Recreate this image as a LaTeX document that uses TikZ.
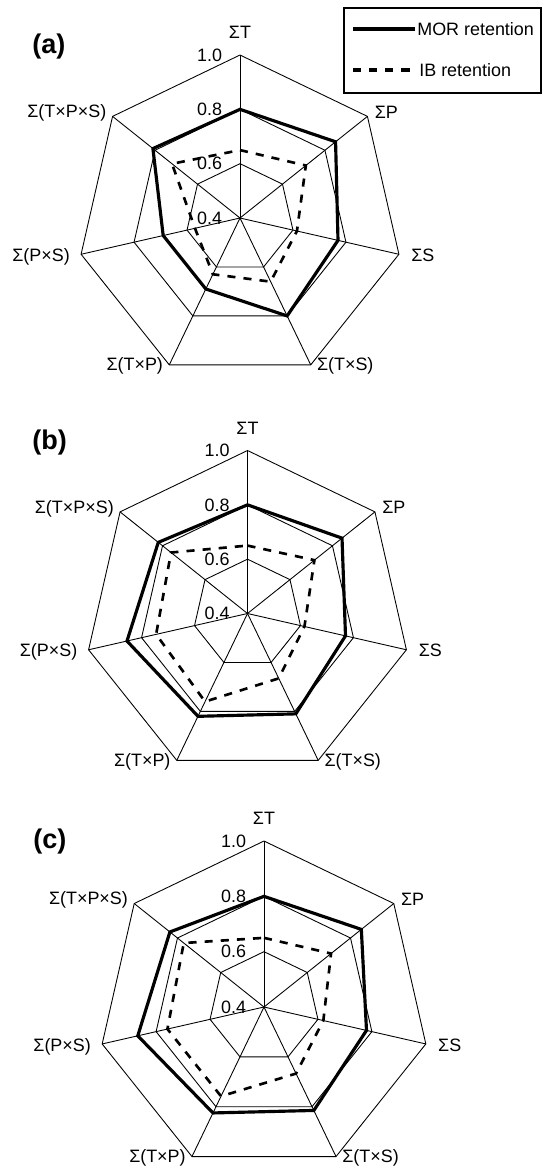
\documentclass[tikz,border=0pt]{standalone}
\usepackage{fontspec}
\setmainfont{Liberation Sans}
\usetikzlibrary{positioning}

\begin{document}
\begin{tikzpicture}[x=0.02cm,y=0.02cm]
	\tikzstyle{every node}+=[inner sep=0pt, font=\fontsize{10.2}{12}\selectfont]
	\tikzstyle{grid}=[black, line width=0.5pt]
	\tikzstyle{mor}=[black, line width=1.8pt, line join=miter]
	\tikzstyle{ib}=[black, line width=1.5pt, dash pattern=on 4.6pt off 4.6pt]
	\tikzstyle{tag}=[anchor=west, font=\fontsize{15.4}{18}\selectfont\bfseries]
	\useasboundingbox (0,0) rectangle (542,-1171);
	% legend
	\draw [black, line width=0.7pt] (344,-8) rectangle (541,-93);
	\coordinate (mor1) at (353,-29);
	\coordinate (mor2) at (415,-29);
	\draw [mor] (mor1) -- (mor2);
	\node [right=0.04cm of mor2] (morlab) {MOR retention};
	\coordinate (ib1) at (353,-70);
	\coordinate (ib2) at (417,-70);
	\draw [ib, line width=2.2pt] (ib1) -- (ib2);
	\node [right=0.04cm of ib2] (iblab) {IB retention};
	% chart (a)
	\node [tag] (taga) at (32,-46) {(a)};
	\begin{scope}[shift={(240,-218)}]
		\def\rad{163}
		\coordinate (ac) at (0,0);
		\foreach \k in {0,...,6} \coordinate (a\k) at ({90-\k*360/7}:\rad);
		\foreach \k in {0,...,6} \draw [grid] (ac) -- (a\k);
		\foreach \l in {1,2,3} \draw [grid] (90:{\l*\rad/3}) \foreach \k in {1,...,6} {-- ({90-\k*360/7}:{\l*\rad/3})} -- cycle;
		\draw [ib] (90:{(0.65-0.4)/0.6*\rad}) \foreach \v [count=\k] in {0.71,0.615,0.66,0.63,0.57,0.72} {-- ({90-\k*360/7}:{(\v-0.4)/0.6*\rad})} -- cycle;
		\draw [mor] (90:{(0.80-0.4)/0.6*\rad}) \foreach \v [count=\k] in {0.85,0.77,0.80,0.69,0.69,0.81} {-- ({90-\k*360/7}:{(\v-0.4)/0.6*\rad})} -- cycle;
		\foreach \l/\t in {0/0.4,1/0.6,2/0.8,3/1.0} {
			\coordinate (al\l) at (90:{\l*\rad/3});
			\node [left=0.35cm of al\l] (av\l) {\t};
		}
		\foreach \k/\anc/\dx/\dy/\txt in {0/south/0/0.32/ΣT, 1/west/0.14/0.09/ΣP, 2/west/0.24/-0.02/ΣS, 3/west/0.12/-0.02/Σ(T×S), 4/east/-0.12/-0.02/Σ(T×P), 5/east/-0.22/-0.05/Σ(P×S), 6/east/-0.12/0.07/Σ(T×P×S)}
			\node [anchor=\anc, xshift=\dx cm, yshift=\dy cm] (an\k) at (a\k) {\txt};
	\end{scope}
	% chart (b)
	\node [tag] (tagb) at (32,-442.5) {(b)};
	\begin{scope}[shift={(247.5,-613.5)}]
		\def\rad{163}
		\coordinate (bc) at (0,0);
		\foreach \k in {0,...,6} \coordinate (b\k) at ({90-\k*360/7}:\rad);
		\foreach \k in {0,...,6} \draw [grid] (bc) -- (b\k);
		\foreach \l in {1,2,3} \draw [grid] (90:{\l*\rad/3}) \foreach \k in {1,...,6} {-- ({90-\k*360/7}:{\l*\rad/3})} -- cycle;
		\draw [ib] (90:{(0.65-0.4)/0.6*\rad}) \foreach \v [count=\k] in {0.715,0.615,0.665,0.76,0.745,0.76} {-- ({90-\k*360/7}:{(\v-0.4)/0.6*\rad})} -- cycle;
		\draw [mor] (90:{(0.80-0.4)/0.6*\rad}) \foreach \v [count=\k] in {0.845,0.77,0.81,0.82,0.855,0.82} {-- ({90-\k*360/7}:{(\v-0.4)/0.6*\rad})} -- cycle;
		\foreach \l/\t in {0/0.4,1/0.6,2/0.8,3/1.0} {
			\coordinate (bl\l) at (90:{\l*\rad/3});
			\node [left=0.35cm of bl\l] (bv\l) {\t};
		}
		\foreach \k/\anc/\dx/\dy/\txt in {0/south/0/0.32/ΣT, 1/west/0.14/0.09/ΣP, 2/west/0.24/-0.02/ΣS, 3/west/0.12/-0.02/Σ(T×S), 4/east/-0.12/-0.02/Σ(T×P), 5/east/-0.22/-0.05/Σ(P×S), 6/east/-0.12/0.07/Σ(T×P×S)}
			\node [anchor=\anc, xshift=\dx cm, yshift=\dy cm] (bn\k) at (b\k) {\txt};
	\end{scope}
	% chart (c)
	\node [tag] (tagc) at (33,-841) {(c)};
	\begin{scope}[shift={(264,-1007)}]
		\def\rad{166}
		\coordinate (cc) at (0,0);
		\foreach \k in {0,...,6} \coordinate (c\k) at ({90-\k*360/7}:\rad);
		\foreach \k in {0,...,6} \draw [grid] (cc) -- (c\k);
		\foreach \l in {1,2,3} \draw [grid] (90:{\l*\rad/3}) \foreach \k in {1,...,6} {-- ({90-\k*360/7}:{\l*\rad/3})} -- cycle;
		\draw [ib] (90:{(0.65-0.4)/0.6*\rad}) \foreach \v [count=\k] in {0.71,0.62,0.667,0.758,0.758,0.771} {-- ({90-\k*360/7}:{(\v-0.4)/0.6*\rad})} -- cycle;
		\draw [mor] (90:{(0.80-0.4)/0.6*\rad}) \foreach \v [count=\k] in {0.85,0.78,0.815,0.825,0.868,0.835} {-- ({90-\k*360/7}:{(\v-0.4)/0.6*\rad})} -- cycle;
		\foreach \l/\t in {0/0.4,1/0.6,2/0.8,3/1.0} {
			\coordinate (cl\l) at (90:{\l*\rad/3});
			\node [left=0.35cm of cl\l] (cv\l) {\t};
		}
		\foreach \k/\anc/\dx/\dy/\txt in {0/south/0/0.32/ΣT, 1/west/0.14/0.09/ΣP, 2/west/0.24/-0.02/ΣS, 3/west/0.12/-0.02/Σ(T×S), 4/east/-0.12/-0.02/Σ(T×P), 5/east/-0.22/-0.05/Σ(P×S), 6/east/-0.12/0.07/Σ(T×P×S)}
			\node [anchor=\anc, xshift=\dx cm, yshift=\dy cm] (cn\k) at (c\k) {\txt};
	\end{scope}
\end{tikzpicture}
\end{document}
